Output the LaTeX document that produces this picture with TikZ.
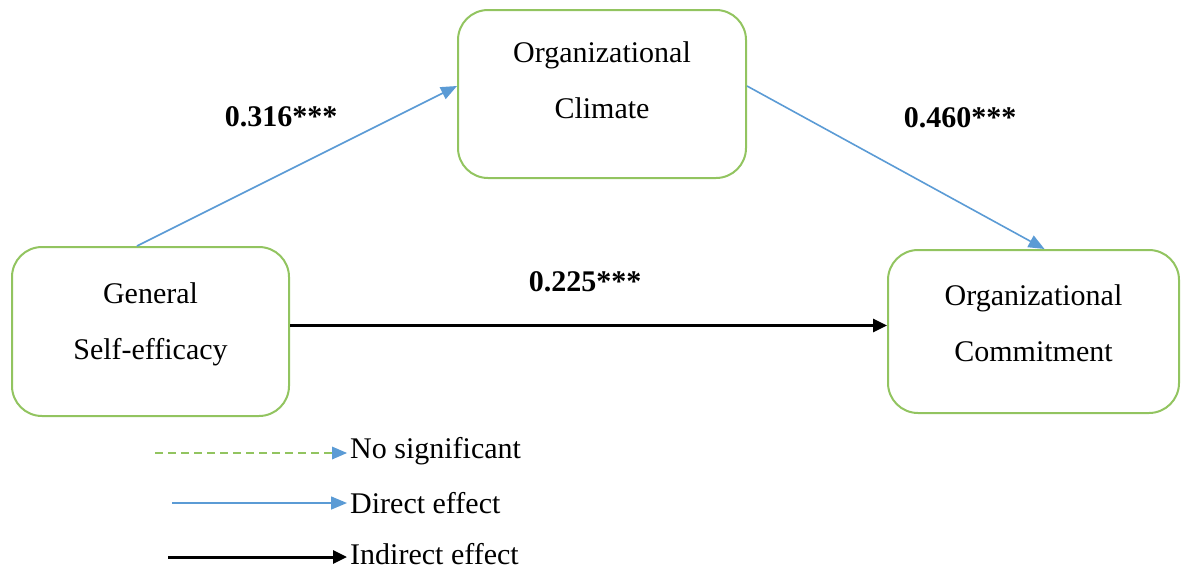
\documentclass[tikz,border=0pt]{standalone}
\usepackage{fontspec}
\setmainfont{Liberation Serif}
\usetikzlibrary{arrows.meta,calc}
\definecolor{boxgreen}{RGB}{146,196,96}
\definecolor{lineblue}{RGB}{91,155,213}
\tikzset{
  varbox/.style={draw=boxgreen, line width=2pt, rounded corners=30pt, inner sep=0pt},
  boxtext/.style={align=center, font=\fontsize{30}{56}\selectfont, inner sep=0pt},
  bluearrow/.style={draw=lineblue, line width=1.6pt, -{Triangle[length=16pt,width=13pt]}},
  blackarrow/.style={draw=black, line width=3pt, -{Triangle[length=14pt,width=13pt]}},
  greenarrow/.style={draw=boxgreen, line width=1.4pt, dash pattern=on 8pt off 5pt},
  coef/.style={font=\fontsize{30}{36}\selectfont\bfseries},
  legtext/.style={font=\fontsize{30}{36}\selectfont, anchor=west, inner sep=0pt}
}
\begin{document}
\begin{tikzpicture}[x=1pt,y=-1pt]
\useasboundingbox (0,0) rectangle (1182,571);
\node[varbox, minimum width=288pt, minimum height=168pt] (clim) at (602,94) {};
\node[boxtext] (climt) at (602,80) {Organizational\\Climate};
\node[varbox, minimum width=277pt, minimum height=169pt] (gse) at (150.5,331.5) {};
\node[boxtext] (gset) at (150.5,324) {General\\Self-efficacy};
\node[varbox, minimum width=291pt, minimum height=163pt] (oc) at (1033.5,331.5) {};
\node[boxtext] (oct) at (1033.5,323.5) {Organizational\\Commitment};
\draw[bluearrow] ($(gse.north)+(-13.5,0)$) -- ($(clim.west)+(0,-8)$);
\draw[bluearrow] ($(clim.east)+(0,-8)$) -- ($(oc.north)+(11,0)$);
\draw[blackarrow] ($(gse.east)+(0,-6)$) -- ($(oc.west)+(0,-6)$);
\node[coef] (c1) at (281,117) {0.316***};
\node[coef] (c2) at (960,118) {0.460***};
\node[coef] (c3) at (585,282) {0.225***};
% legend
\coordinate (l1a) at (155,453);
\coordinate (l1b) at (332,453);
\coordinate (l1c) at (347,453);
\draw[greenarrow] (l1a) -- (l1b);
\fill[lineblue] (l1c) -- ++(-15,-6.5) -- ++(0,13) -- cycle;
\node[legtext] (t1) at (350,451) {No significant};
\coordinate (l2a) at (172,503);
\coordinate (l2b) at (347,503);
\draw[bluearrow] (l2a) -- (l2b);
\node[legtext] (t2) at (350,503) {Direct effect};
\coordinate (l3a) at (168,557);
\coordinate (l3b) at (347,557);
\draw[blackarrow] (l3a) -- (l3b);
\node[legtext] (t3) at (350,554) {Indirect effect};
\end{tikzpicture}
\end{document}
